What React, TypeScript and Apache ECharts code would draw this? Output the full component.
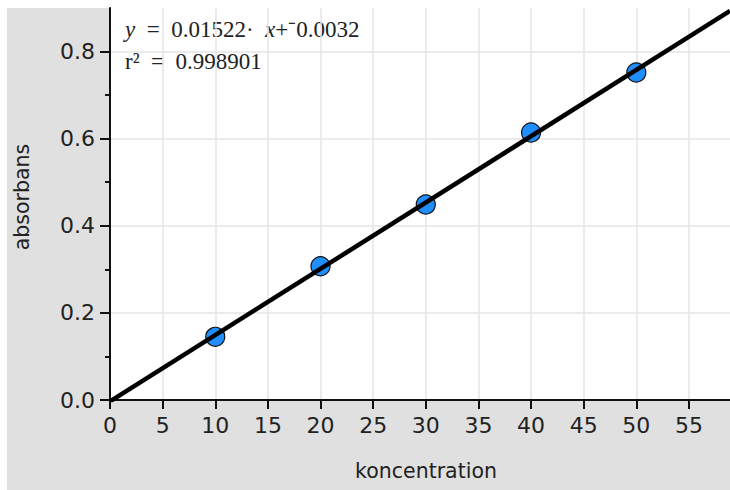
import React, { useEffect, useRef } from "react";
import * as echarts from "echarts";

const concentration = [10, 20, 30, 40, 50];
const absorbance = [0.145, 0.307, 0.449, 0.614, 0.752];
const slope = [0.01522];
const intercept = [-0.0032];
const rSquared = ["0.998901"];
const xRange = [0, 58.9];
const yRange = [0, 0.9];
const xTickStep = 5;
const xTickLabels = [0, 5, 10, 15, 20, 25, 30, 35, 40, 45, 50, 55];
const yTickLabels = [0, 0.2, 0.4, 0.6, 0.8];
const yMinorTicks = [0.1, 0.3, 0.5, 0.7];

const W = 730;
const H = 490;

export default function App() {
  const ref = useRef<HTMLDivElement>(null);
  useEffect(() => {
    if (!ref.current) return;
    const prevOverflow = document.body.style.overflow;
    document.body.style.overflow = "hidden";
    const chart = echarts.init(ref.current, undefined, { renderer: "svg", width: W, height: H });
    const points = concentration.map((x, i) => [x, absorbance[i]]);
    const fit = xRange.map((x) => [x, slope[0] * x + intercept[0]]);
    const sans = "DejaVu Sans";
    const serif = "Liberation Serif";
    const isMult = (v: number, s: number) => Math.abs(v / s - Math.round(v / s)) < 1e-6;
    chart.setOption({
      animation: false,
      backgroundColor: "#e0e0e0",
      grid: {
        left: 110,
        right: 0,
        top: 8,
        bottom: 90,
        show: true,
        backgroundColor: "#ffffff",
        borderWidth: 0,
      },
      xAxis: {
        type: "value",
        min: xRange[0],
        max: xRange[1],
        interval: xTickStep,
        axisLine: { show: true, onZero: false, lineStyle: { color: "#111", width: 2 } },
        axisTick: { show: true, length: 9, customValues: xTickLabels, lineStyle: { color: "#111", width: 2 } },
        axisLabel: {
          color: "#222",
          fontFamily: sans,
          fontSize: 22,
          margin: 14,
          customValues: xTickLabels,
          formatter: (v: number) => (isMult(v, xTickStep) ? String(v) : ""),
        },
        splitLine: { show: true, lineStyle: { color: "#e4e4e4", width: 1.5 } },
      },
      yAxis: [
        {
          type: "value",
          min: yRange[0],
          max: yRange[1],
          interval: 0.2,
          axisLine: { show: true, onZero: false, lineStyle: { color: "#111", width: 2 } },
          axisTick: { show: true, length: 10, customValues: yTickLabels, lineStyle: { color: "#111", width: 2 } },
          axisLabel: {
            color: "#222",
            fontFamily: sans,
            fontSize: 22,
            margin: 15,
            customValues: yTickLabels,
            formatter: (v: number) => (isMult(v, 0.2) ? v.toFixed(1) : ""),
          },
          splitLine: { show: true, lineStyle: { color: "#e4e4e4", width: 1.5 } },
        },
        {
          type: "value",
          position: "left",
          min: yRange[0],
          max: yRange[1],
          interval: 0.1,
          axisLine: { show: false },
          axisTick: { show: true, length: 5, customValues: yMinorTicks, lineStyle: { color: "#111", width: 2 } },
          axisLabel: { show: false },
          splitLine: { show: false },
        },
      ],
      graphic: [
        { type: "rect", left: 0, top: 0, shape: { width: W, height: 8 }, style: { fill: "#ffffff" }, silent: true },
        { type: "rect", left: 0, top: 0, shape: { width: 7, height: H }, style: { fill: "#ffffff" }, silent: true },
        {
          type: "text",
          x: 125,
          y: 29,
          style: {
            text: "{i|y}  =  0.01522·  {i|x}+⁻0.0032",
            font: `23px ${serif}`,
            fill: "#222",
            verticalAlign: "middle",
            rich: { i: { fontStyle: "italic", fontFamily: serif, fontSize: 23, fill: "#222" } },
          },
        },
        {
          type: "text",
          x: 125,
          y: 61,
          style: { text: "r²  =  " + rSquared[0], font: `23px ${serif}`, fill: "#222", verticalAlign: "middle" },
        },
        {
          type: "text",
          x: 426,
          y: 471,
          style: { text: "koncentration", font: `20.5px ${sans}`, fill: "#222", align: "center", verticalAlign: "middle" },
        },
        {
          type: "text",
          x: 22,
          y: 197,
          rotation: Math.PI / 2,
          style: { text: "absorbans", font: `20.5px ${sans}`, fill: "#222", align: "center", verticalAlign: "middle" },
        },
      ],
      series: [
        {
          type: "scatter",
          data: points,
          symbol: "circle",
          symbolSize: 19,
          itemStyle: { color: "#1f8fff", borderColor: "#111", borderWidth: 1.2, opacity: 1 },
          z: 2,
        },
        {
          type: "line",
          data: fit,
          showSymbol: false,
          clip: true,
          lineStyle: { color: "#000", width: 4.5 },
          z: 3,
        },
      ],
    });
    return () => {
      chart.dispose();
      document.body.style.overflow = prevOverflow;
    };
  }, []);
  return (
    <div
      ref={ref}
      style={{ position: "fixed", left: 0, top: 0, width: W, height: H }}
    />
  );
}
